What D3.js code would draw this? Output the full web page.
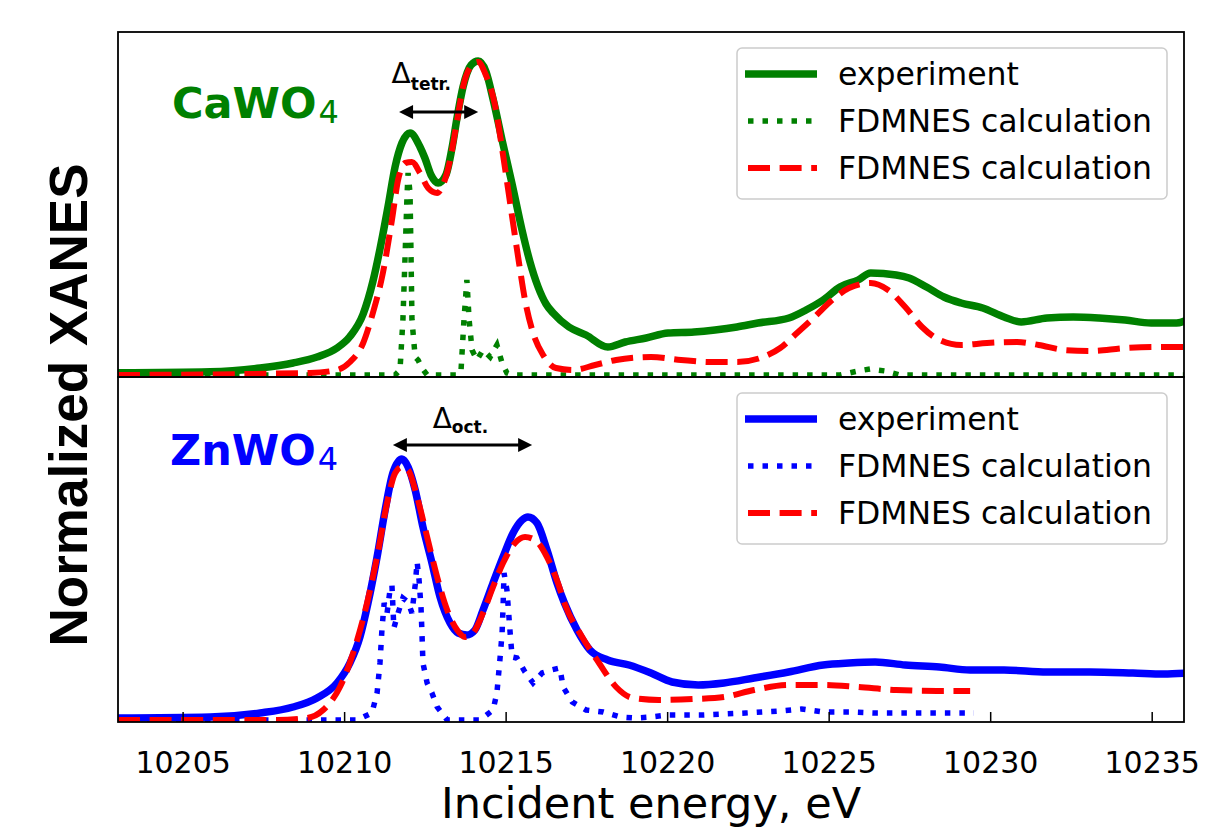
<!DOCTYPE html>
<html><head><meta charset="utf-8">
<script src="https://cdn.jsdelivr.net/npm/d3@7"></script>
<style>html,body{margin:0;padding:0;background:#fff;}svg{display:block;}</style>
</head><body><svg id="chart" width="1222" height="828"></svg>
<script>
// ---------- DATA (energy eV, normalized XANES) ----------
const xTicks = [10205, 10210, 10215, 10220, 10225, 10230, 10235];
const legendLabels = ["experiment", "FDMNES calculation", "FDMNES calculation"];
const panelNames = ["CaWO", "ZnWO"];
const deltaLabels = ["tetr.", "oct."];
const arrowTetr = [10211.70, 10214.15, 1.048];
const arrowOct = [10211.51, 10215.82, 1.096];

const caExperiment = [[10203.00,0.005],[10205.85,0.009],[10207.40,0.024],[10208.42,0.044],[10209.16,0.068],[10209.78,0.104],[10210.18,0.150],[10210.59,0.240],[10210.89,0.370],[10211.11,0.500],[10211.36,0.670],[10211.58,0.830],[10211.79,0.924],[10212.04,0.964],[10212.35,0.908],[10212.50,0.864],[10212.69,0.796],[10212.91,0.764],[10213.15,0.796],[10213.34,0.904],[10213.50,1.028],[10213.68,1.148],[10213.93,1.236],[10214.15,1.252],[10214.39,1.210],[10214.61,1.100],[10214.90,0.930],[10215.20,0.760],[10215.50,0.580],[10215.75,0.450],[10216.00,0.350],[10216.25,0.280],[10216.47,0.244],[10216.96,0.188],[10217.49,0.156],[10218.16,0.108],[10218.70,0.128],[10219.35,0.144],[10220.03,0.164],[10220.83,0.168],[10221.48,0.176],[10222.16,0.188],[10222.81,0.204],[10223.77,0.224],[10224.30,0.256],[10224.83,0.296],[10225.35,0.348],[10225.91,0.376],[10226.30,0.404],[10227.09,0.396],[10227.49,0.384],[10228.03,0.348],[10228.57,0.308],[10229.10,0.284],[10229.77,0.264],[10230.43,0.228],[10230.96,0.208],[10231.76,0.224],[10232.57,0.228],[10233.37,0.224],[10234.18,0.216],[10234.98,0.204],[10235.77,0.204],[10236.10,0.216]];
const caCalcDotted = [[10203.00,-0.004],[10211.58,-0.004],[10211.73,0.016],[10211.82,0.216],[10211.89,0.484],[10211.95,0.724],[10211.98,0.804],[10212.04,0.724],[10212.07,0.484],[10212.10,0.216],[10212.20,0.068],[10212.29,0.056],[10212.41,0.024],[10212.57,-0.004],[10213.53,-0.004],[10213.62,0.016],[10213.71,0.216],[10213.80,0.376],[10213.87,0.216],[10213.96,0.096],[10214.11,0.056],[10214.30,0.096],[10214.52,0.068],[10214.73,0.116],[10214.89,0.044],[10215.04,0.004],[10215.20,-0.004],[10225.35,-0.004],[10225.91,0.012],[10226.28,0.020],[10226.75,0.012],[10227.21,-0.004],[10236.10,-0.004]];
const caCalcDashed = [[10203.00,-0.004],[10208.94,0.004],[10209.78,0.016],[10210.18,0.048],[10210.59,0.124],[10210.89,0.244],[10211.20,0.404],[10211.48,0.616],[10211.67,0.776],[10211.89,0.844],[10212.10,0.848],[10212.35,0.804],[10212.60,0.744],[10212.88,0.724],[10213.06,0.756],[10213.28,0.856],[10213.50,1.016],[10213.68,1.148],[10213.96,1.236],[10214.15,1.248],[10214.36,1.204],[10214.67,1.076],[10214.92,0.876],[10215.17,0.656],[10215.41,0.448],[10215.60,0.296],[10215.85,0.164],[10216.16,0.076],[10216.56,0.024],[10217.09,0.016],[10217.77,0.036],[10218.42,0.056],[10219.50,0.068],[10220.43,0.056],[10221.36,0.048],[10222.16,0.048],[10222.97,0.068],[10223.50,0.104],[10224.02,0.164],[10224.56,0.228],[10225.11,0.296],[10225.63,0.344],[10226.30,0.364],[10226.84,0.336],[10227.37,0.268],[10227.89,0.188],[10228.43,0.136],[10229.10,0.116],[10229.90,0.124],[10230.83,0.128],[10231.50,0.116],[10232.30,0.096],[10233.09,0.092],[10234.18,0.104],[10235.11,0.108],[10236.10,0.108]];

const znExperiment = [[10203.00,0.004],[10205.85,0.008],[10207.40,0.024],[10208.42,0.048],[10209.16,0.084],[10209.78,0.144],[10210.18,0.224],[10210.49,0.328],[10210.74,0.464],[10211.02,0.648],[10211.27,0.836],[10211.51,0.984],[10211.79,1.040],[10211.98,1.008],[10212.20,0.916],[10212.44,0.768],[10212.72,0.624],[10212.97,0.488],[10213.28,0.384],[10213.53,0.344],[10213.80,0.336],[10214.05,0.356],[10214.30,0.436],[10214.61,0.544],[10214.92,0.648],[10215.23,0.744],[10215.51,0.796],[10215.69,0.808],[10215.97,0.784],[10216.28,0.676],[10216.59,0.544],[10216.82,0.464],[10217.21,0.356],[10217.61,0.276],[10218.16,0.236],[10218.82,0.216],[10219.50,0.184],[10220.15,0.148],[10220.96,0.136],[10221.76,0.144],[10222.69,0.164],[10223.76,0.188],[10224.83,0.216],[10225.63,0.224],[10226.44,0.228],[10227.37,0.216],[10228.43,0.208],[10229.38,0.196],[10230.43,0.196],[10231.76,0.188],[10233.09,0.188],[10234.42,0.184],[10235.37,0.180],[10236.10,0.184]];
const znCalcDotted = [[10203.00,-0.004],[10210.40,-0.004],[10210.86,0.024],[10211.02,0.104],[10211.11,0.224],[10211.17,0.356],[10211.24,0.464],[10211.33,0.424],[10211.42,0.516],[10211.48,0.536],[10211.54,0.364],[10211.67,0.424],[10211.82,0.484],[10211.98,0.468],[10212.10,0.424],[10212.20,0.536],[10212.26,0.628],[10212.32,0.556],[10212.38,0.448],[10212.41,0.344],[10212.44,0.224],[10212.57,0.144],[10212.72,0.104],[10212.88,0.048],[10213.19,-0.004],[10214.21,-0.004],[10214.61,0.036],[10214.73,0.104],[10214.83,0.248],[10214.89,0.344],[10214.92,0.448],[10214.95,0.584],[10215.04,0.516],[10215.14,0.344],[10215.20,0.248],[10215.35,0.244],[10215.60,0.188],[10215.85,0.144],[10216.13,0.184],[10216.41,0.196],[10216.68,0.204],[10216.78,0.128],[10217.06,0.068],[10217.49,0.036],[10218.02,0.028],[10218.56,0.008],[10219.02,0.004],[10219.50,0.008],[10220.03,0.016],[10221.08,0.016],[10222.43,0.024],[10223.50,0.032],[10224.16,0.040],[10224.83,0.028],[10225.63,0.028],[10226.44,0.024],[10227.77,0.024],[10229.50,0.024]];
const znCalcDashed = [[10203.00,-0.004],[10207.92,-0.004],[10208.85,0.004],[10209.35,0.036],[10209.87,0.128],[10210.28,0.264],[10210.71,0.464],[10211.02,0.648],[10211.33,0.864],[10211.58,0.984],[10211.79,1.008],[10211.98,0.996],[10212.26,0.888],[10212.57,0.728],[10212.88,0.568],[10213.19,0.436],[10213.50,0.356],[10213.74,0.328],[10213.99,0.344],[10214.30,0.424],[10214.61,0.528],[10214.92,0.624],[10215.29,0.704],[10215.60,0.728],[10215.91,0.716],[10216.28,0.648],[10216.62,0.544],[10216.82,0.464],[10217.37,0.328],[10217.89,0.224],[10218.42,0.128],[10218.94,0.084],[10219.75,0.076],[10220.83,0.080],[10221.76,0.088],[10222.69,0.116],[10223.76,0.136],[10224.83,0.136],[10225.90,0.128],[10227.09,0.116],[10228.43,0.112],[10229.38,0.112]];

// ---------- LAYOUT ----------
const svg = d3.select("#chart");
const L = 118, R = 1184, T = 32, M = 377, B = 722;
const x = d3.scaleLinear().domain([10203, 10236]).range([L, R]);
const yDom = [-0.012, 1.368];
const yTop = d3.scaleLinear().domain(yDom).range([M, T]);
const yBot = d3.scaleLinear().domain(yDom).range([B, M]);

svg.append("rect").attr("width",1222).attr("height",828).attr("fill","#fff");

const defs = svg.append("defs");
defs.append("clipPath").attr("id","clipTop").append("rect").attr("x",L).attr("y",T).attr("width",R-L).attr("height",M-T);
defs.append("clipPath").attr("id","clipBot").append("rect").attr("x",L).attr("y",M).attr("width",R-L).attr("height",B-M);

const styles = {
  exp: {w: 7.5, dash: null},
  dot: {w: 5.5, dash: "5.5,9"},
  dash: {w: 6, dash: "22,9.6"}
};

function drawPanel(y, clip, color, exp, dotted, dashed) {
  const g = svg.append("g").attr("clip-path", `url(#${clip})`);
  const lineS = d3.line().x(d => x(d[0])).y(d => y(d[1])).curve(d3.curveMonotoneX);
  const lineL = d3.line().x(d => x(d[0])).y(d => y(d[1]));
  g.append("path").datum(exp).attr("d", lineS).attr("fill","none").attr("stroke", color)
    .attr("stroke-width", styles.exp.w).attr("stroke-linejoin","round");
  g.append("path").datum(dotted).attr("d", lineL).attr("fill","none").attr("stroke", color)
    .attr("stroke-width", styles.dot.w).attr("stroke-dasharray", styles.dot.dash);
  g.append("path").datum(dashed).attr("d", lineS).attr("fill","none").attr("stroke", "#ff0000")
    .attr("stroke-width", styles.dash.w).attr("stroke-dasharray", styles.dash.dash);
}

drawPanel(yTop, "clipTop", "#008000", caExperiment, caCalcDotted, caCalcDashed);
drawPanel(yBot, "clipBot", "#0000ff", znExperiment, znCalcDotted, znCalcDashed);

// x axis (bottom panel), ticks inward
const ax = svg.append("g").attr("transform", `translate(0,${B})`)
  .call(d3.axisBottom(x).tickValues(xTicks).tickFormat(d3.format("d")).tickSizeInner(-10).tickSizeOuter(0).tickPadding(30));
ax.select(".domain").remove();
ax.selectAll(".tick line").attr("stroke","#000").attr("stroke-width",1.5);
ax.selectAll(".tick text").attr("font-family","'DejaVu Sans', sans-serif").attr("font-size",30).attr("fill","#000");

// frames
[[T,M],[M,B]].forEach(([a,b]) => {
  svg.append("rect").attr("x",L).attr("y",a).attr("width",R-L).attr("height",b-a)
    .attr("fill","none").attr("stroke","#000").attr("stroke-width",1.8);
});

// axis labels
svg.append("text").attr("x", (L+R)/2).attr("y", 818).attr("text-anchor","middle")
  .attr("font-family","'DejaVu Sans', sans-serif").attr("font-size",43).attr("fill","#000")
  .text("Incident energy, eV");
svg.append("text").attr("transform","translate(87,405) rotate(-90)").attr("text-anchor","middle")
  .attr("font-family","'Liberation Sans', Arial, sans-serif").attr("font-weight","bold").attr("font-size",53).attr("fill","#000")
  .text("Normalized XANES");

// compound labels
function compound(y, name, color, e, v, subDy) {
  const t = svg.append("text").attr("x", x(e)).attr("y", y(v)).attr("fill", color)
    .attr("font-family","'DejaVu Sans', sans-serif");
  t.append("tspan").attr("font-weight","bold").attr("font-size",43).text(name);
  t.append("tspan").attr("font-size",32).attr("dy",subDy).attr("dx",2).text("4");
}
compound(yTop, panelNames[0], "#008000", 10204.67, 1.024, 5);
compound(yBot, panelNames[1], "#0000ff", 10204.61, 1.016, 5);

// delta labels
function deltaLabel(y, e, v, sub, subDy) {
  const t = svg.append("text").attr("x", x(e)).attr("y", y(v)).attr("fill","#000")
    .attr("font-family","'DejaVu Sans', sans-serif");
  t.append("tspan").attr("font-size",28).text("Δ");
  t.append("tspan").attr("font-size",17).attr("font-weight","bold").attr("dy",subDy).text(sub);
}
deltaLabel(yTop, 10211.47, 1.164, deltaLabels[0], 7);
deltaLabel(yBot, 10212.74, 1.164, deltaLabels[1], 5);

// double arrows
function dblArrow(y, arr) {
  const x1 = x(arr[0]), x2 = x(arr[1]), yy = y(arr[2]);
  const hl = 14, hw = 7;
  svg.append("line").attr("x1", x1 + hl - 1).attr("x2", x2 - hl + 1).attr("y1", yy).attr("y2", yy)
    .attr("stroke","#000").attr("stroke-width",2.8);
  svg.append("path").attr("d", `M${x1},${yy} L${x1+hl},${yy-hw} L${x1+hl},${yy+hw} Z`).attr("fill","#000");
  svg.append("path").attr("d", `M${x2},${yy} L${x2-hl},${yy-hw} L${x2-hl},${yy+hw} Z`).attr("fill","#000");
}
dblArrow(yTop, arrowTetr);
dblArrow(yBot, arrowOct);

// legends
function legend(top, color) {
  const g = svg.append("g");
  g.append("rect").attr("x",737).attr("y",top).attr("width",430).attr("height",151).attr("rx",5)
    .attr("fill","#fff").attr("fill-opacity",0.8).attr("stroke","#cccccc").attr("stroke-width",1.5);
  const rows = [
    {c: color, s: styles.exp},
    {c: color, s: styles.dot},
    {c: "#ff0000", s: styles.dash}
  ];
  rows.forEach((r, i) => {
    const ly = top + 26 + i*47;
    const ln = g.append("line").attr("x1", r.s.dash ? 748 : 745).attr("x2", 817).attr("y1", ly).attr("y2", ly)
      .attr("stroke", r.c).attr("stroke-width", r.s.w);
    if (r.s.dash) ln.attr("stroke-dasharray", r.s.dash);
    g.append("text").attr("x", 838).attr("y", ly + 11).attr("font-family","'DejaVu Sans', sans-serif")
      .attr("font-size",31.5).attr("fill","#000").text(legendLabels[i]);
  });
}
legend(48, "#008000");
legend(393, "#0000ff");
</script></body></html>
